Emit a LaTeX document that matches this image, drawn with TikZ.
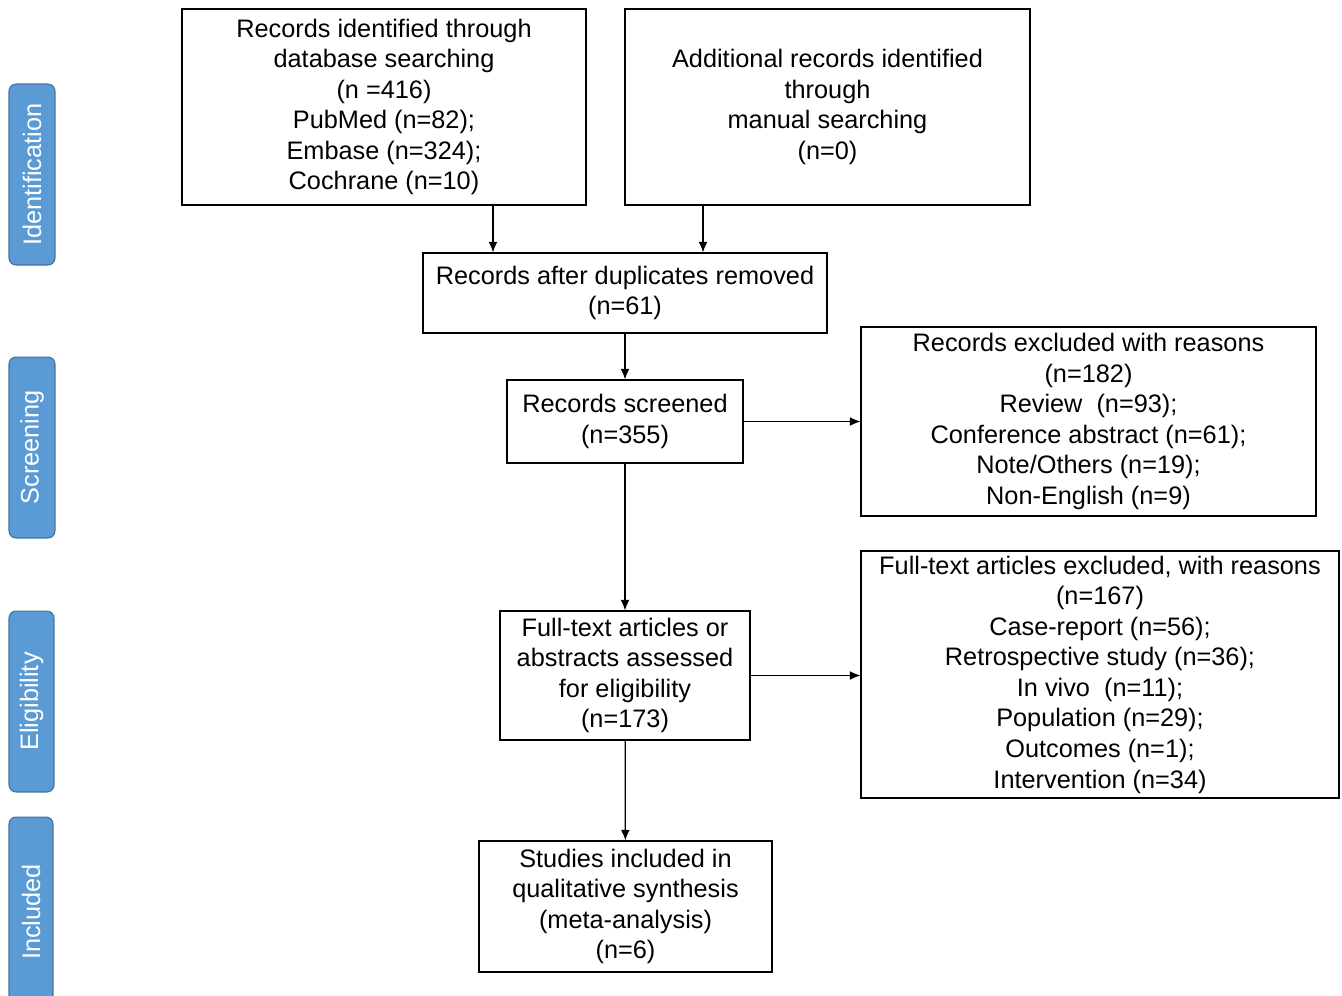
\documentclass[tikz,border=0pt]{standalone}
\usepackage{fontspec}
\setmainfont{Liberation Sans}
\usetikzlibrary{arrows.meta}
\definecolor{tabblue}{RGB}{91,155,213}
\definecolor{tabedge}{RGB}{65,113,156}
\tikzset{
	box/.style={draw,line width=0.7pt,align=center,inner sep=0pt,font=\fontsize{14.4}{17.4}\selectfont},
	tab/.style={draw=tabedge,fill=tabblue,rounded corners=4pt,line width=0.6pt,text=white,
		rotate=90,inner sep=0pt,font=\fontsize{14.4}{17}\selectfont},
	arr/.style={-{Latex[length=6pt,width=5pt]},line width=0.7pt}
}
\begin{document}
\begin{tikzpicture}[x=0.02cm,y=-0.02cm]
	\useasboundingbox (0,0) rectangle (1342,995);
	
	% stage tabs on the left
	\node[tab,minimum width=3.62cm,minimum height=0.92cm] (tid) at (32,174.5) {Identification};
	\node[tab,minimum width=3.62cm,minimum height=0.92cm] (tsc) at (32,447.5) {Screening};
	\node[tab,minimum width=3.62cm,minimum height=0.9cm] (tel) at (31.5,701.5) {Eligibility};
	\node[tab,minimum width=3.8cm,minimum height=0.88cm] (tin) at (31,912) {Included};
	
	% boxes
	\node[box,minimum width=8.08cm,minimum height=3.92cm] (db) at (384,107)
		{Records identified through\\database searching\\(n =416)\\PubMed (n=82);\\Embase (n=324);\\Cochrane (n=10)};
	\node[box,minimum width=8.1cm,minimum height=3.92cm] (add) at (827.5,107)
		{Additional records identified\\through\\manual searching\\(n=0)};
	\node[box,minimum width=8.08cm,minimum height=1.6cm] (dup) at (625,293)
		{Records after duplicates removed\\(n=61)};
	\node[box,minimum width=4.72cm,minimum height=1.66cm] (scr) at (625,421.5)
		{Records screened\\(n=355)};
	\node[box,minimum width=9.1cm,minimum height=3.78cm] (ex1) at (1088.5,421.5)
		{Records excluded with reasons\\(n=182)\\Review\ \ (n=93);\\Conference abstract (n=61);\\Note/Others (n=19);\\Non-English (n=9)};
	\node[box,minimum width=5cm,minimum height=2.58cm] (ft) at (625,675.5)
		{Full-text articles or\\abstracts assessed\\for eligibility\\(n=173)};
	\node[box,minimum width=9.56cm,minimum height=4.94cm] (ex2) at (1100,674.5)
		{Full-text articles excluded, with reasons\\(n=167)\\Case-report (n=56);\\Retrospective study (n=36);\\In vivo\ \ (n=11);\\Population (n=29);\\Outcomes (n=1);\\Intervention (n=34)};
	\node[box,minimum width=5.86cm,minimum height=2.62cm] (inc) at (625.5,906.5)
		{Studies included in\\qualitative synthesis\\(meta-analysis)\\(n=6)};
	
	% connectors
	\coordinate (c1) at (493,0);
	\coordinate (c2) at (703,0);
	\draw[arr] (db.south -| c1) -- (c1 |- dup.north);
	\draw[arr] (add.south -| c2) -- (c2 |- dup.north);
	\draw[arr] (dup) -- (scr);
	\draw[arr] (scr) -- (ex1);
	\draw[arr] (scr) -- (ft);
	\draw[arr] (ft.east) -- (ft.east -| ex2.west);
	\draw[arr] (ft) -- (inc);
\end{tikzpicture}
\end{document}
